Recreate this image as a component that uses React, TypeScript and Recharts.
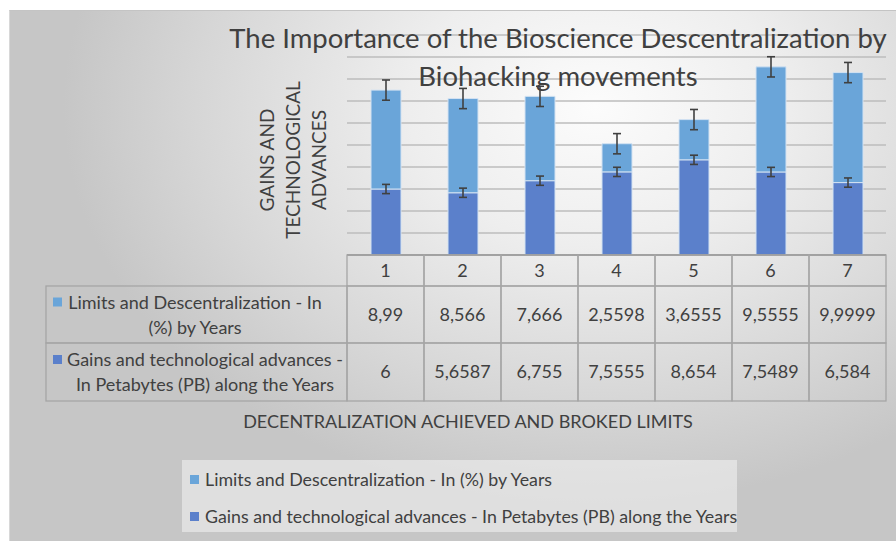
import React from "react";
import { BarChart, Bar, XAxis, YAxis, CartesianGrid, ErrorBar } from "recharts";

const categories = ["1", "2", "3", "4", "5", "6", "7"];
const limitsValues = [8.99, 8.566, 7.666, 2.5598, 3.6555, 9.5555, 9.9999];
const gainsValues = [6, 5.6587, 6.755, 7.5555, 8.654, 7.5489, 6.584];
const limitsErrors = [0.92, 0.92, 0.92, 0.92, 0.92, 0.92, 0.92];
const gainsErrors = [0.42, 0.42, 0.42, 0.42, 0.42, 0.42, 0.42];
const yTicks = [0, 2, 4, 6, 8, 10, 12, 14, 16, 18, 20];

const limitsName = "Limits and Descentralization - In (%) by Years";
const gainsName = "Gains and technological advances - In Petabytes (PB) along the Years";
const limitsRowLabel = ["Limits and Descentralization - In", "(%) by Years"];
const gainsRowLabel = ["Gains and technological advances -", "In Petabytes (PB) along the Years"];

const LIMITS_COLOR = "#6aa5d9";
const GAINS_COLOR = "#5b80cb";
const TEXT = "#404040";
const FONT = "Lato, 'Open Sans', sans-serif";

const PLOT_LEFT = 347;
const PLOT_RIGHT = 886;
const TABLE_LEFT = 46;
const HEADER_H = 31;
const ROW1_H = 57;
const ROW2_H = 58;
const BORDER = "#a6a6a6";

const data = categories.map((c, i) => ({
  cat: c,
  limits: limitsValues[i],
  gains: gainsValues[i],
  limitsErr: limitsErrors[i],
  gainsErr: gainsErrors[i],
}));

const fmt = (v: number) => String(v).replace(".", ",");

function RowLabel({ top, h, lines, color, cx }: any) {
  const mid = top + h / 2;
  return (
    <g>
      <rect x={TABLE_LEFT} y={top} width={PLOT_LEFT - TABLE_LEFT} height={h} fill="none" stroke={BORDER} strokeWidth={1.3} />
      <rect x={53} y={mid - 17} width={9} height={9} fill={color} />
      <text x={cx} y={mid - 6} textAnchor="middle" fontSize={18} fill={TEXT} fontFamily={FONT}>
        {lines[0]}
      </text>
      <text x={cx} y={mid + 19} textAnchor="middle" fontSize={18} fill={TEXT} fontFamily={FONT}>
        {lines[1]}
      </text>
    </g>
  );
}

// each x tick draws one column of the data table under the plot
function TableColumn(props: any) {
  const { x, y, payload } = props;
  const i = categories.indexOf(payload.value);
  const colW = (PLOT_RIGHT - PLOT_LEFT) / categories.length;
  const left = x - colW / 2;
  const r1 = y + HEADER_H;
  const r2 = r1 + ROW1_H;
  return (
    <g>
      <rect x={left} y={y} width={colW} height={HEADER_H} fill="none" stroke={BORDER} strokeWidth={1.3} />
      <rect x={left} y={r1} width={colW} height={ROW1_H} fill="none" stroke={BORDER} strokeWidth={1.3} />
      <rect x={left} y={r2} width={colW} height={ROW2_H} fill="none" stroke={BORDER} strokeWidth={1.3} />
      <text x={x} y={y + 22} textAnchor="middle" fontSize={18} fill={TEXT} fontFamily={FONT}>
        {payload.value}
      </text>
      <text x={x} y={r1 + ROW1_H / 2 + 6} textAnchor="middle" fontSize={18} fill={TEXT} fontFamily={FONT}>
        {fmt(limitsValues[i])}
      </text>
      <text x={x} y={r2 + ROW2_H / 2 + 6} textAnchor="middle" fontSize={18} fill={TEXT} fontFamily={FONT}>
        {fmt(gainsValues[i])}
      </text>
      {i === 0 && (
        <>
          <RowLabel top={r1} h={ROW1_H} lines={limitsRowLabel} color={LIMITS_COLOR} cx={195} />
          <RowLabel top={r2} h={ROW2_H} lines={gainsRowLabel} color={GAINS_COLOR} cx={205} />
        </>
      )}
    </g>
  );
}

export default function App() {
  return (
    <div style={{ position: "absolute", left: 0, top: 0, width: 896, height: 541, background: "#fff", fontFamily: FONT, color: TEXT }}>
      <div
        style={{
          position: "absolute",
          left: 9,
          top: 10,
          width: 887,
          height: 530,
          background: "radial-gradient(ellipse 60% 75% at 66% 18%, #fcfcfc 0%, #eeeeee 35%, #d6d6d6 75%, #c6c6c6 100%)",
          borderTop: "1px solid #c4c4c4",
          borderLeft: "1px solid #d8d8d8",
        }}
      />
      <div style={{ position: "absolute", left: 0, top: 0 }}>
        <BarChart
          width={896}
          height={541}
          data={data}
          margin={{ top: 35, right: 10, left: PLOT_LEFT, bottom: 140 }}
          barSize={30}
        >
          <CartesianGrid vertical={false} stroke="#bcbcbc" strokeWidth={1.3} />
          <XAxis
            dataKey="cat"
            height={146}
            interval={0}
            tickSize={0}
            tickMargin={0}
            tickLine={false}
            axisLine={{ stroke: "#8c8c8c", strokeWidth: 1.3 }}
            tick={<TableColumn />}
          />
          <YAxis hide domain={[0, 20]} ticks={yTicks} interval={0} />
          <Bar dataKey="gains" stackId="a" fill={GAINS_COLOR} stroke="#d3e2f2" strokeWidth={1} isAnimationActive={false}>
            <ErrorBar dataKey="gainsErr" width={4} stroke="#404040" strokeWidth={1.6} />
          </Bar>
          <Bar dataKey="limits" stackId="a" fill={LIMITS_COLOR} stroke="#d3e2f2" strokeWidth={1} isAnimationActive={false}>
            <ErrorBar dataKey="limitsErr" width={4} stroke="#404040" strokeWidth={1.6} />
          </Bar>
        </BarChart>
      </div>
      <div
        style={{
          position: "absolute",
          left: 158,
          top: 19,
          width: 800,
          textAlign: "center",
          fontSize: 27.5,
          lineHeight: "38px",
          pointerEvents: "none",
        }}
      >
        The Importance of the Bioscience Descentralization by
        <br />
        Biohacking movements
      </div>
      <div
        style={{
          position: "absolute",
          left: 193,
          top: 120,
          width: 200,
          height: 80,
          transform: "rotate(-90deg)",
          textAlign: "center",
          fontSize: 19,
          lineHeight: "26px",
          display: "flex",
          flexDirection: "column",
          justifyContent: "center",
        }}
      >
        <div>GAINS AND</div>
        <div>TECHNOLOGICAL</div>
        <div>ADVANCES</div>
      </div>
      <div style={{ position: "absolute", left: 168, top: 410, width: 600, textAlign: "center", fontSize: 18 }}>
        DECENTRALIZATION ACHIEVED AND BROKED LIMITS
      </div>
      <div
        style={{
          position: "absolute",
          left: 182,
          top: 460,
          width: 555,
          height: 72,
          background: "rgba(240,240,240,0.6)",
          fontSize: 17.8,
        }}
      >
        {[
          { name: limitsName, color: LIMITS_COLOR },
          { name: gainsName, color: GAINS_COLOR },
        ].map((s, k) => (
          <div key={k} style={{ position: "absolute", left: 8, top: 8 + k * 37, height: 22, display: "flex", alignItems: "center", whiteSpace: "nowrap" }}>
            <span style={{ display: "inline-block", width: 9, height: 9, background: s.color, marginRight: 6 }} />
            {s.name}
          </div>
        ))}
      </div>
    </div>
  );
}
